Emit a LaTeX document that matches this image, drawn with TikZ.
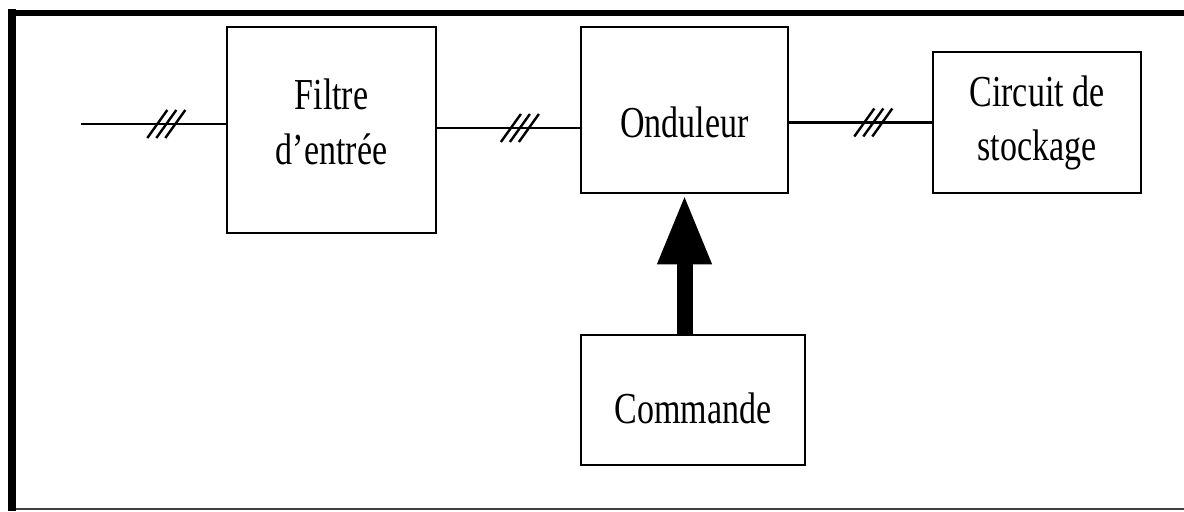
\documentclass[tikz,border=0pt]{standalone}
\usepackage{fontspec}
\setmainfont{Liberation Serif}
\usetikzlibrary{arrows.meta}

% texte d'un bloc, etire en hauteur, decale de #1
\newcommand{\bloctxt}[2][0pt]{\raisebox{#1}[\height][\depth]{\scalebox{1}[1.3]{\begin{tabular}{@{}c@{}}#2\end{tabular}}}}

\tikzset{
	bloc/.style={draw, line width=1.4pt, inner sep=0pt, align=center,
		font=\fontsize{17pt}{21pt}\selectfont},
	fil/.style={line width=1.4pt},
	fleche/.style={line width=8pt, -{Triangle[length=35pt,width=25pt]}},
	trois/.pic={\foreach \d in {-4.5,0,4.5} \draw[line width=1.2pt] (\d pt-5pt,-7pt) -- (\d pt+5pt,7pt);}
}

\begin{document}
\begin{tikzpicture}[x=0.5pt,y=-0.5pt]
		\useasboundingbox (0,0) rectangle (1184,511);
		% cadre
		\draw[line width=4pt] (12,511) -- (12,9);
		\draw[line width=3pt] (8,13) -- (1184,13);
		\draw[line width=0.6pt, black!75] (16,509) -- (1184,509);
		
		\node[bloc, minimum width=104.5pt, minimum height=103pt] (filtre) at (331.5,130) {\bloctxt[2pt]{Filtre\\d'entrée}};
		\node[bloc, minimum width=103.5pt, minimum height=83pt] (ond) at (684.5,110) {\bloctxt[-8.5pt]{Onduleur}};
		\node[bloc, minimum width=104pt, minimum height=70.5pt] (circ) at (1037,122.5) {\bloctxt{Circuit de\\stockage}};
		\node[bloc, minimum width=112pt, minimum height=65pt] (cmd) at (693,400) {\bloctxt[-6.5pt]{Commande}};
		
		\coordinate (in) at (81,124);
		\draw[fil] (in) -- coordinate[pos=.59] (t1) (in -| filtre.west);
		\draw[fil] (filtre.east |- 0,128) -- coordinate[pos=.58] (t2) (ond.west |- 0,128);
		\draw[fil] (circ.west -| ond.east) -- coordinate[pos=.59] (t3) (circ.west);
		\foreach \t in {t1,t2,t3} \pic at (\t) {trois};
		
		\draw[fleche] (ond.south |- cmd.north) -- (ond.south);
\end{tikzpicture}
\end{document}
